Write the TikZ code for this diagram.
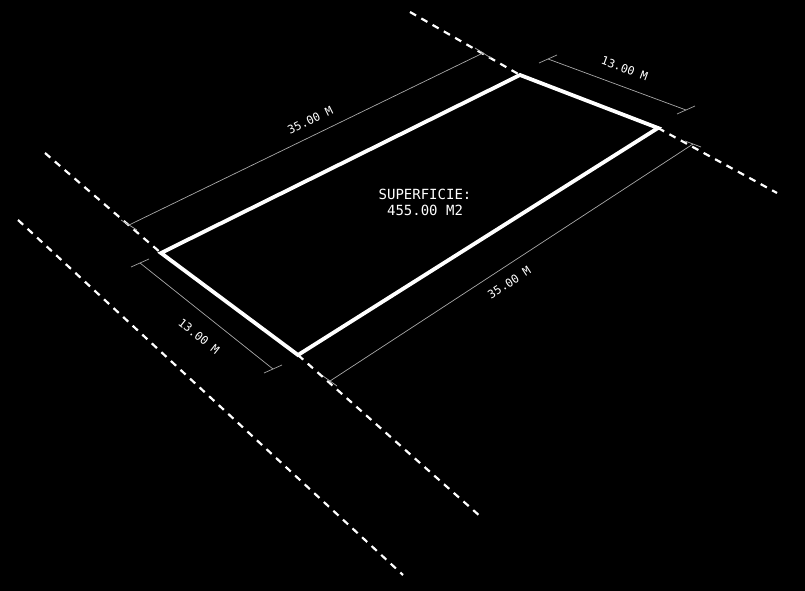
\documentclass[tikz,border=0pt]{standalone}
\usepackage{fontspec}
\setmonofont{DejaVu Sans Mono}
\usepackage{tikz}
\tikzset{
    every node/.style={text=white, inner sep=1pt,
    	font=\ttfamily\fontsize{11.5}{13}\selectfont}
}
\tikzset{
    lot/.style={draw=white, line width=3.8pt, line join=miter}
}
\tikzset{
    road/.style={draw=white, line width=2.2pt, dash pattern=on 7pt off 6pt}
}
\tikzset{
    dimline/.style={draw=white!66!black, line width=0.7pt}
}

\begin{document}
\begin{tikzpicture}[x=1pt,y=-1pt]
  \fill[black] (0,0) rectangle (805,591);
  \useasboundingbox (0,0) rectangle (805,591);

  \coordinate (p0) at (161,253);
  \coordinate (p1) at (520,75);
  \coordinate (p2) at (658,128);
  \coordinate (p3) at (298,355);

  \coordinate (r0) at (410,12);
  \coordinate (r1) at (777,193);
  \coordinate (r2) at (45,153);
  \coordinate (r3) at (481,517);
  \coordinate (r4) at (18,220);
  \coordinate (r5) at (403,575);

  \coordinate (a0) at (129,225);
  \coordinate (a1) at (483,53);
  \coordinate (b0) at (548,59);
  \coordinate (b1) at (686,110);
  \coordinate (c0) at (330,381);
  \coordinate (c1) at (693,144);
  \coordinate (e0) at (140,263);
  \coordinate (e1) at (273,369);

  \draw[road] (r0) -- (p1);
  \draw[road] (p2) -- (r1);
  \draw[road] (r2) -- (p0);
  \draw[road] (p3) -- (r3);
  \draw[road] (r4) -- (r5);

  \draw[dimline] (a0) -- node[sloped, above=9pt, pos=.53] {35.00 M} (a1);
  \draw[dimline] (b0) -- node[sloped, above=12pt, pos=.51] {13.00 M} (b1);
  \draw[dimline] (c0) -- node[sloped, below=10pt, pos=.47] {35.00 M} (c1);
  \draw[dimline] (e0) -- node[sloped, below=15pt, pos=.54] {13.00 M} (e1);

  \draw[dimline] ([shift={(-9,4)}]b0) -- ([shift={(9,-4)}]b0);
  \draw[dimline] ([shift={(-9,4)}]b1) -- ([shift={(9,-4)}]b1);
  \draw[dimline] ([shift={(-9,4)}]e0) -- ([shift={(9,-4)}]e0);
  \draw[dimline] ([shift={(-9,4)}]e1) -- ([shift={(9,-4)}]e1);
  \draw[dimline] ([shift={(-8,-5)}]a0) -- ([shift={(8,5)}]a0);
  \draw[dimline] ([shift={(-8,-5)}]a1) -- ([shift={(8,5)}]a1);
  \draw[dimline] ([shift={(-7,-5)}]c0) -- ([shift={(7,5)}]c0);
  \draw[dimline] ([shift={(-8,-3)}]c1) -- ([shift={(8,3)}]c1);

  \draw[lot] (p0) -- (p1) -- (p2) -- (p3) -- cycle;

  \node (area) [align=center, font=\ttfamily\fontsize{14}{16}\selectfont]
    at (425,202) {SUPERFICIE:\\455.00 M2};
\end{tikzpicture}
\end{document}
